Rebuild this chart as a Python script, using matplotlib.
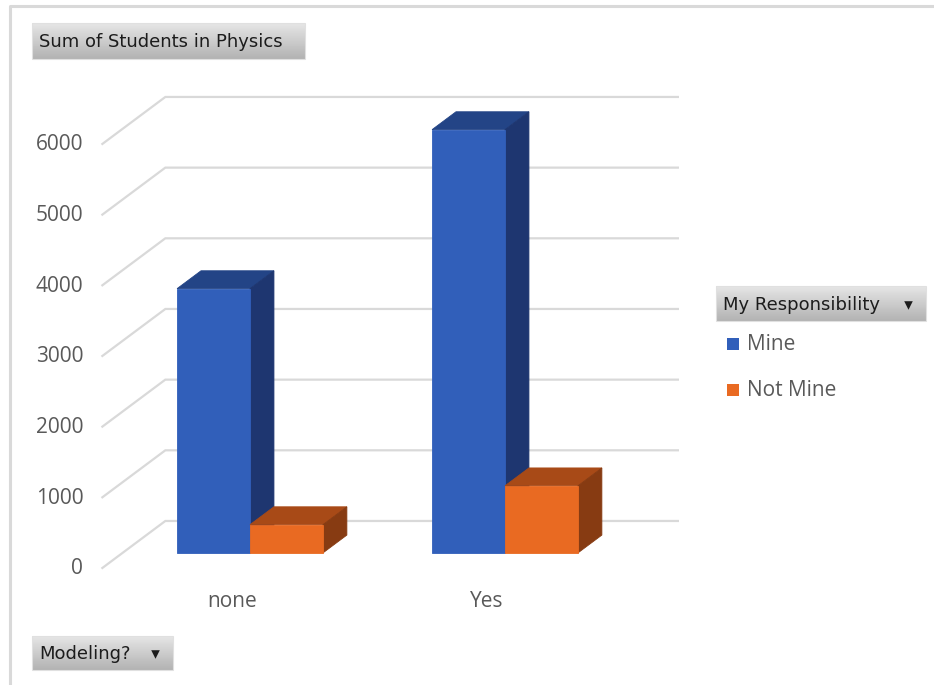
import numpy as np
import matplotlib
matplotlib.use('Agg')
import matplotlib.pyplot as plt
from matplotlib.patches import Polygon, Rectangle
from matplotlib.transforms import offset_copy

# pivot table: Sum of Students in Physics by Modeling? and My Responsibility
categories = ['none', 'Yes']
series_names = ['Mine', 'Not Mine']
mine = [3740, 5990]
not_mine = [400, 950]
yticks = [0, 1000, 2000, 3000, 4000, 5000, 6000]

W, H = 934, 685
front = ['#315fba', '#e96a22']
tops = ['#234486', '#a84a17']
sides = ['#1e3670', '#873b12']
grid_c = '#d9d9d9'
text_c = '#595959'

# oblique projection used for the 3-D look
DX, DY = 0.247, 665.0
D0, D1 = 0.32, 0.70
BW = 0.286


def proj(x, v, d):
    return (x + d * DX, v + d * DY)


fig = plt.figure(figsize=(W / 100, H / 100), dpi=100)
fig.patch.set_facecolor('white')
ax = fig.add_axes([0, 0, 1, 1])
ax.set_xlim(-0.9014, 2.7614)
ax.set_ylim(-1656, 8037)
ax.axis('off')

x_lo, x_hi = -0.5, 1.51
for t in yticks:
    # back wall line and side wall diagonal
    p0 = proj(x_lo, t, 0)
    p1 = proj(x_lo, t, 1)
    p2 = proj(x_hi, t, 1)
    ax.plot([p0[0], p1[0], p2[0]], [p0[1], p1[1], p2[1]], color=grid_c,
            lw=1.6, solid_joinstyle='miter', zorder=1)
    tr = offset_copy(ax.transData, fig=fig, x=-19, y=-1, units='dots')
    ax.text(p0[0], p0[1], str(t), transform=tr, ha='right', va='center',
            fontsize=15, color=text_c, family='Open Sans')

for i, cat in enumerate(categories):
    vals = [mine[i], not_mine[i]]
    for s in range(2):
        x0 = i - BW + s * BW
        x1 = x0 + BW
        v = vals[s]
        faces = [
            ([proj(x0, v, D0), proj(x1, v, D0), proj(x1, v, D1), proj(x0, v, D1)], tops[s]),
            ([proj(x1, 0, D0), proj(x1, v, D0), proj(x1, v, D1), proj(x1, 0, D1)], sides[s]),
            ([proj(x0, 0, D0), proj(x1, 0, D0), proj(x1, v, D0), proj(x0, v, D0)], front[s]),
        ]
        for pts, c in faces:
            ax.add_patch(Polygon(pts, closed=True, facecolor=c, edgecolor=c,
                                 lw=0.6, zorder=3 + s))
    tr = offset_copy(ax.transData, fig=fig, x=2, y=-34, units='dots')
    ax.text(i, 0, cat, transform=tr, ha='center', va='center',
            fontsize=15, color=text_c, family='Open Sans')

# overlay in pixel units for the pivot buttons, legend and frame
ov = fig.add_axes([0, 0, 1, 1], zorder=5)
ov.set_xlim(0, W)
ov.set_ylim(H, 0)
ov.axis('off')
ov.patch.set_alpha(0)

ov.plot([10, 10, W], [H, 6, 6], color='#d9d9d9', lw=2.2, zorder=1)

grad = np.linspace(0.90, 0.70, 50).reshape(-1, 1)


def button(x, y, w, h, label, arrow=False):
    ov.imshow(grad, cmap='gray', vmin=0, vmax=1, extent=(x, x + w, y + h, y),
              aspect='auto', zorder=2, interpolation='bilinear')
    ov.add_patch(Rectangle((x, y), w, h, fill=False, edgecolor='#e0e0e0', lw=0.8, zorder=3))
    ov.text(x + 7, y + h / 2 + 1, label, ha='left', va='center', fontsize=13,
            color='#1c1c1c', family='DejaVu Sans', zorder=4)
    if arrow:
        ov.scatter([x + w - 18], [y + h / 2 + 1], marker='v', s=38, color='#1c1c1c',
                   lw=0, zorder=4)


button(32, 23, 273, 36, 'Sum of Students in Physics')
button(716, 286, 210, 35, 'My Responsibility', arrow=True)
button(32, 636, 141, 34, 'Modeling?', arrow=True)

ov.set_xlim(0, W)
ov.set_ylim(H, 0)

for k, (name, c) in enumerate(zip(series_names, front)):
    yc = 344 + k * 46
    ov.add_patch(Rectangle((727, yc - 6), 12, 12, facecolor=c, edgecolor='none', zorder=4))
    ov.text(747, yc, name, ha='left', va='center', fontsize=15, color=text_c,
            family='Open Sans', zorder=4)

fig.savefig('out.png', dpi=100, facecolor='white')
